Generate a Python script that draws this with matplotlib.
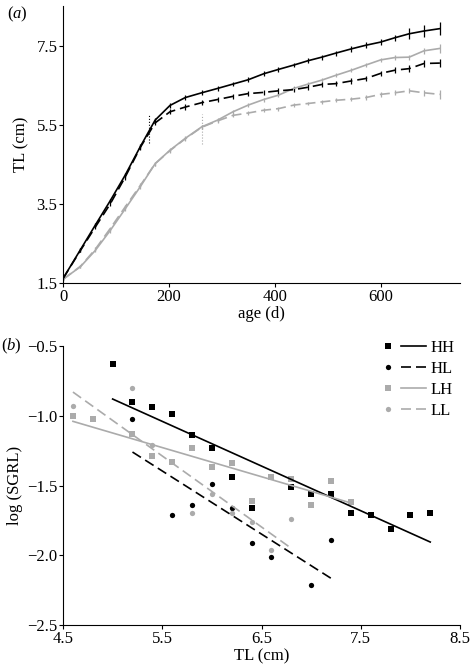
import numpy as np
import matplotlib
matplotlib.use('Agg')
import matplotlib.pyplot as plt
from matplotlib.lines import Line2D
from matplotlib.legend_handler import HandlerTuple

plt.rcParams['font.family'] = ['Liberation Serif', 'DejaVu Serif']
plt.rcParams['font.size'] = 12
plt.rcParams['mathtext.fontset'] = 'custom'
plt.rcParams['mathtext.rm'] = 'Liberation Serif'
plt.rcParams['mathtext.it'] = 'Liberation Serif:italic'

# panel (a): growth curves, TL (cm) against age (d)
age = [0, 33, 61, 89, 117, 146, 174, 202, 231, 262, 292, 321, 350,
       379, 407, 436, 463, 489, 515, 545, 572, 600, 627, 654, 682, 712]
tl_hh = [1.62, 2.35, 2.97, 3.58, 4.22, 4.95, 5.62, 5.99, 6.19, 6.31, 6.42, 6.53, 6.64,
         6.79, 6.90, 7.01, 7.12, 7.21, 7.31, 7.42, 7.51, 7.59, 7.70, 7.80, 7.87, 7.93]
tl_hl = [1.62, 2.33, 2.92, 3.50, 4.17, 4.93, 5.55, 5.83, 5.95, 6.06, 6.14, 6.22, 6.29,
         6.32, 6.36, 6.39, 6.45, 6.52, 6.54, 6.61, 6.67, 6.80, 6.88, 6.92, 7.05, 7.06]
tl_lh = [1.60, 1.92, 2.33, 2.83, 3.37, 3.94, 4.52, 4.86, 5.16, 5.45, 5.62, 5.83, 6.00,
         6.14, 6.25, 6.42, 6.53, 6.63, 6.75, 6.88, 7.01, 7.14, 7.20, 7.21, 7.37, 7.43]
tl_ll = [1.60, 1.93, 2.36, 2.88, 3.42, 3.97, 4.52, 4.85, 5.15, 5.44, 5.60, 5.74, 5.80,
         5.87, 5.91, 6.00, 6.04, 6.08, 6.12, 6.15, 6.19, 6.27, 6.31, 6.36, 6.31, 6.27]
se_hh = [0.03, 0.05, 0.05, 0.05, 0.06, 0.06, 0.06, 0.06, 0.06, 0.06, 0.06, 0.06, 0.06,
         0.06, 0.06, 0.06, 0.06, 0.06, 0.06, 0.07, 0.07, 0.07, 0.08, 0.14, 0.15, 0.17]
se_hl = [0.03, 0.05, 0.05, 0.05, 0.06, 0.06, 0.06, 0.06, 0.07, 0.07, 0.07, 0.07, 0.07,
         0.07, 0.07, 0.07, 0.07, 0.07, 0.07, 0.07, 0.07, 0.07, 0.08, 0.08, 0.09, 0.10]
se_lh = [0.03, 0.04, 0.05, 0.05, 0.05, 0.05, 0.05, 0.05, 0.05, 0.05, 0.05, 0.05, 0.05,
         0.05, 0.05, 0.05, 0.05, 0.05, 0.05, 0.05, 0.06, 0.06, 0.06, 0.06, 0.08, 0.12]
se_ll = [0.03, 0.04, 0.05, 0.05, 0.05, 0.05, 0.05, 0.05, 0.05, 0.05, 0.05, 0.05, 0.05,
         0.05, 0.05, 0.05, 0.05, 0.05, 0.05, 0.05, 0.06, 0.06, 0.06, 0.06, 0.08, 0.12]
# divergence markers (age, lower TL, upper TL)
split_h = (163, 5.03, 5.77)
split_l = (262, 5.02, 5.77)

# panel (b): log(SGRL) against TL (cm)
hh_tl = [5.0, 5.2, 5.4, 5.6, 5.8, 6.0, 6.2, 6.4, 6.8, 7.0, 7.2, 7.4, 7.6, 7.8, 8.0, 8.2]
hh_sg = [-0.63, -0.90, -0.94, -0.99, -1.14, -1.23, -1.44, -1.66, -1.51, -1.56, -1.56,
         -1.70, -1.71, -1.81, -1.71, -1.70]
hl_tl = [5.2, 5.6, 5.8, 6.0, 6.2, 6.4, 6.6, 7.0, 7.2]
hl_sg = [-1.02, -1.71, -1.64, -1.49, -1.66, -1.91, -2.01, -2.21, -1.89]
lh_tl = [4.6, 4.8, 5.2, 5.4, 5.6, 5.8, 6.0, 6.2, 6.4, 6.6, 6.8, 7.0, 7.2, 7.4]
lh_sg = [-1.00, -1.02, -1.13, -1.29, -1.33, -1.23, -1.37, -1.34, -1.61, -1.44, -1.45,
         -1.64, -1.47, -1.62]
ll_tl = [4.6, 5.2, 5.4, 5.8, 6.0, 6.2, 6.4, 6.6, 6.8]
ll_sg = [-0.93, -0.80, -1.21, -1.70, -1.56, -1.70, -1.76, -1.96, -1.74]
# fitted lines: (x ends, y ends)
fit_hh = ([5.0, 8.2], [-0.88, -1.905])
fit_hl = ([5.2, 7.2], [-1.26, -2.165])
fit_lh = ([4.6, 7.4], [-1.04, -1.625])
fit_ll = ([4.6, 6.8], [-0.83, -1.95])

grey = '#ababab'
dash = (6, 3)

fig = plt.figure(figsize=(4.72, 6.72), dpi=100)
ax1 = fig.add_axes([0.1335, 0.5784, 0.8411, 0.4126])
ax2 = fig.add_axes([0.1335, 0.0699, 0.8411, 0.4152])

# ---- panel (a)
series = [(tl_ll, se_ll, grey, True), (tl_lh, se_lh, grey, False),
          (tl_hl, se_hl, 'black', True), (tl_hh, se_hh, 'black', False)]
for tl, se, col, dashed in series:
    ln, caps, bars = ax1.errorbar(age, tl, yerr=se, color=col, lw=1.2, elinewidth=0.9,
                                  capsize=0)
    if dashed:
        ln.set_dashes(dash)

ax1.vlines(split_h[0], split_h[1], split_h[2], colors='black', linestyles=':', lw=0.8)
ax1.vlines(split_l[0], split_l[1], split_l[2], colors=grey, linestyles=':', lw=0.8)

ax1.set_xlim(0, 750)
ax1.set_ylim(1.5, 8.5)
ax1.set_xticks([0, 200, 400, 600])
ax1.set_yticks([1.5, 3.5, 5.5, 7.5])
ax1.set_xlabel('age (d)', labelpad=1)
ax1.set_ylabel('TL (cm)', labelpad=5)

# ---- panel (b)
ax2.plot(hh_tl, hh_sg, 's', color='black', ms=4.3, mew=0)
ax2.plot(hl_tl, hl_sg, 'o', color='black', ms=3.8, mew=0)
ax2.plot(lh_tl, lh_sg, 's', color=grey, ms=4.3, mew=0)
ax2.plot(ll_tl, ll_sg, 'o', color=grey, ms=3.8, mew=0)
ax2.plot(fit_hh[0], fit_hh[1], color='black', lw=1.2)
ax2.plot(fit_hl[0], fit_hl[1], color='black', lw=1.2, dashes=dash)
ax2.plot(fit_lh[0], fit_lh[1], color=grey, lw=1.2)
ax2.plot(fit_ll[0], fit_ll[1], color=grey, lw=1.2, dashes=dash)

ax2.set_xlim(4.5, 8.5)
ax2.set_ylim(-2.5, -0.5)
ax2.set_xticks([4.5, 5.5, 6.5, 7.5, 8.5])
ax2.set_yticks([-2.5, -2.0, -1.5, -1.0, -0.5])
ax2.set_xlabel('TL (cm)', labelpad=1)
ax2.set_ylabel('log (SGRL)', labelpad=3)

handles = []
for mk, col, dashed in [('s', 'black', False), ('o', 'black', True),
                        ('s', grey, False), ('o', grey, True)]:
    m = Line2D([], [], marker=mk, color=col, ls='none', ms=4.3 if mk == 's' else 3.8, mew=0)
    l = Line2D([], [], color=col, lw=1.2)
    if dashed:
        l.set_dashes(dash)
    handles.append((m, l))
ax2.legend(handles, ['HH', 'HL', 'LH', 'LL'], loc='upper right',
           bbox_to_anchor=(1.025, 1.076), frameon=False, handlelength=3.0,
           handletextpad=0.3, labelspacing=0.3, fontsize=12,
           handler_map={tuple: HandlerTuple(ndivide=None, pad=0)})

for ax in (ax1, ax2):
    for s in ('top', 'right'):
        ax.spines[s].set_visible(False)
    ax.tick_params(direction='out', length=3, width=0.8, labelsize=12, pad=1)

fig.text(7 / 472, 1 - 14 / 672, '($a$)', fontsize=12, va='center', ha='left')
fig.text(1 / 472, 1 - 346 / 672, '($b$)', fontsize=12, va='center', ha='left')

fig.savefig('out.png', dpi=100)
